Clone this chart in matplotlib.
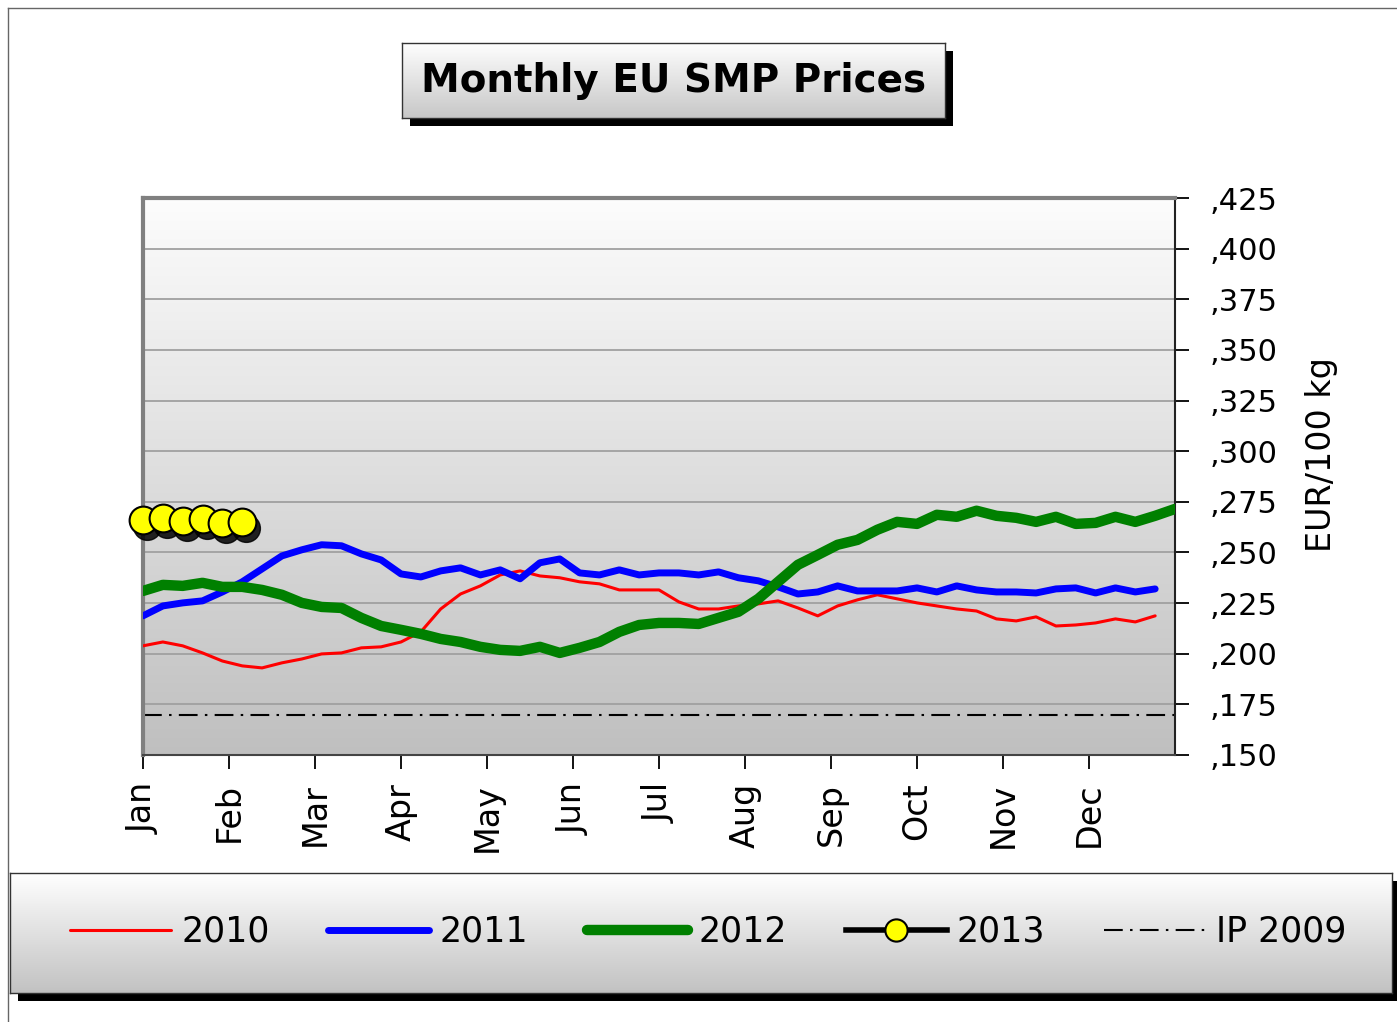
import numpy as np
import matplotlib.pyplot as plt
from matplotlib import transforms
from matplotlib.lines import Line2D

plt.rcParams['font.family'] = 'DejaVu Sans'

months = ['Jan', 'Feb', 'Mar', 'Apr', 'May', 'Jun', 'Jul', 'Aug', 'Sep', 'Oct', 'Nov', 'Dec']
y_ticks = [150, 175, 200, 225, 250, 275, 300, 325, 350, 375, 400, 425]

# weekly prices, EUR/100 kg
p2010 = [203.9, 205.8, 203.9, 200.4, 196.4, 194.0, 193.0, 195.5, 197.4, 199.9,
         200.4, 202.9, 203.4, 205.8, 210.8, 222.1, 229.5, 233.5, 238.9, 240.9,
         238.4, 237.5, 235.5, 234.5, 231.5, 231.5, 231.5, 225.6, 222.1, 222.1,
         223.6, 224.6, 226.1, 222.6, 218.7, 223.6, 226.6, 229.1, 227.1, 225.1,
         223.6, 222.1, 221.1, 217.2, 216.2, 218.2, 213.7, 214.2, 215.2, 217.2,
         215.7, 218.7]
p2011 = [218.7, 223.6, 225.1, 226.1, 230.5, 235.5, 241.9, 248.3, 251.3, 253.8,
         253.3, 249.3, 246.3, 239.4, 237.9, 240.9, 242.4, 238.9, 241.4, 237.0,
         244.9, 246.8, 239.9, 238.9, 241.4, 238.9, 239.9, 239.9, 238.9, 240.4,
         237.5, 236.0, 233.0, 229.5, 230.5, 233.5, 231.0, 231.0, 231.0, 232.5,
         230.5, 233.5, 231.5, 230.5, 230.5, 230.0, 232.0, 232.5, 230.0, 232.5,
         230.5, 232.0]
p2012 = [231.0, 234.0, 233.5, 235.0, 233.0, 233.0, 231.5, 229.1, 225.1, 223.1,
         222.6, 217.7, 213.7, 211.8, 209.8, 207.3, 205.8, 203.4, 201.9, 201.4,
         203.4, 200.4, 202.9, 205.8, 210.8, 214.2, 215.2, 215.2, 214.7, 217.7,
         220.7, 227.1, 235.5, 243.9, 248.8, 253.8, 256.2, 261.2, 265.1, 264.1,
         268.6, 267.6, 270.6, 268.1, 267.1, 265.1, 267.6, 264.1, 264.6, 267.6,
         265.1, 268.1, 271.5]
p2013 = [266.1, 267.1, 265.6, 266.6, 264.6, 265.1]
ip_2009 = 169.8

W, H = 1397, 1022
fig = plt.figure(figsize=(W / 100, H / 100), dpi=100)


def px_box(x0, y0, x1, y1):
    return [x0 / W, 1 - y1 / H, (x1 - x0) / W, (y1 - y0) / H]


def gradient_box(x0, y0, x1, y1, top, bottom, shadow=8):
    sh = fig.add_axes(px_box(x0 + shadow, y0 + shadow, x1 + shadow, y1 + shadow))
    sh.set_facecolor('black')
    sh.set_xticks([])
    sh.set_yticks([])
    for s in sh.spines.values():
        s.set_visible(False)
    bx = fig.add_axes(px_box(x0, y0, x1, y1))
    grad = np.linspace(top, bottom, 256)
    bx.imshow(grad[:, None, :], aspect='auto', extent=[0, 1, 0, 1])
    bx.set_xlim(0, 1)
    bx.set_ylim(0, 1)
    bx.set_xticks([])
    bx.set_yticks([])
    for s in bx.spines.values():
        s.set_color('#333333')
        s.set_linewidth(1)
    return bx


# outer frame lines
fig.add_artist(Line2D([8 / W, 8 / W], [0, 1 - 8 / H], transform=fig.transFigure, color='#666666', lw=1))
fig.add_artist(Line2D([8 / W, 1], [1 - 8 / H, 1 - 8 / H], transform=fig.transFigure, color='#666666', lw=1))

# title box
tb = gradient_box(402, 43, 945, 118, (1, 1, 1), (0.78, 0.78, 0.78))
tb.text(0.5, 0.5, 'Monthly EU SMP Prices', ha='center', va='center',
        fontsize=28, fontweight='bold')

# main plot
ax = fig.add_axes(px_box(143, 198, 1175, 755))
grad = np.linspace((0.99, 0.99, 0.99), (0.75, 0.75, 0.75), 256)
ax.imshow(grad[:, None, :], aspect='auto', extent=[0, 52, 150, 425], zorder=0)
ax.set_xlim(0, 52)
ax.set_ylim(150, 425)
ax.set_axisbelow(True)
ax.yaxis.grid(True, color='#a0a0a0', lw=1.3)

ax.plot(np.arange(len(p2010)), p2010, color='#ff0000', lw=2.2,
        solid_capstyle='round', solid_joinstyle='round', label='2010', zorder=3)
ax.plot(np.arange(len(p2011)), p2011, color='#0000ff', lw=5,
        solid_capstyle='round', solid_joinstyle='round', label='2011', zorder=4)
ax.plot(np.arange(len(p2012)), p2012, color='#008000', lw=7.5,
        solid_capstyle='round', solid_joinstyle='round', label='2012', zorder=5)
ax.axhline(ip_2009, color='black', lw=1.5, dashes=(9, 3.5, 1.2, 3.5), label='IP 2009', zorder=2)

shadow = transforms.offset_copy(ax.transData, fig=fig, x=4, y=-6, units='dots')
ax.plot(np.arange(len(p2013)), p2013, 'o', color='black', ms=20, mec='black',
        alpha=0.85, transform=shadow, zorder=6, clip_on=False)
ax.plot(np.arange(len(p2013)), p2013, '-o', color='black', lw=4, ms=20,
        mfc='#ffff00', mec='black', mew=1.5, label='2013', zorder=7, clip_on=False)

ax.yaxis.tick_right()
ax.set_yticks(y_ticks)
ax.set_yticklabels([',' + str(v) for v in y_ticks])
ax.set_xticks([k * 52 / 12 for k in range(12)])
ax.set_xticklabels(months, rotation=90)
ax.tick_params(axis='y', direction='out', length=10, width=1.3, labelsize=22, pad=15)
ax.tick_params(axis='x', direction='out', length=10, width=1.3, labelsize=24, pad=10)

ax.spines['top'].set_color('#808080')
ax.spines['top'].set_linewidth(3)
ax.spines['left'].set_color('#808080')
ax.spines['left'].set_linewidth(3)
ax.spines['right'].set_color('#222222')
ax.spines['right'].set_linewidth(1.5)
ax.spines['bottom'].set_color('#444444')
ax.spines['bottom'].set_linewidth(1.5)

fig.text(1322 / W, 1 - 455 / H, 'EUR/100 kg', rotation=90, ha='center', va='center', fontsize=24)

# legend box
gradient_box(10, 873, 1392, 993, (1, 1, 1), (0.76, 0.76, 0.76))
handles, labels = ax.get_legend_handles_labels()
order = ['2010', '2011', '2012', '2013', 'IP 2009']
hl = dict(zip(labels, handles))
fig.legend([hl[k] for k in order], order, loc='center',
           bbox_to_anchor=(708 / W, 1 - 932 / H), ncol=5, frameon=False,
           fontsize=25, handlelength=2.9, handletextpad=0.3, columnspacing=1.7,
           markerscale=0.8, numpoints=1)

fig.savefig('out.png', dpi=100)
